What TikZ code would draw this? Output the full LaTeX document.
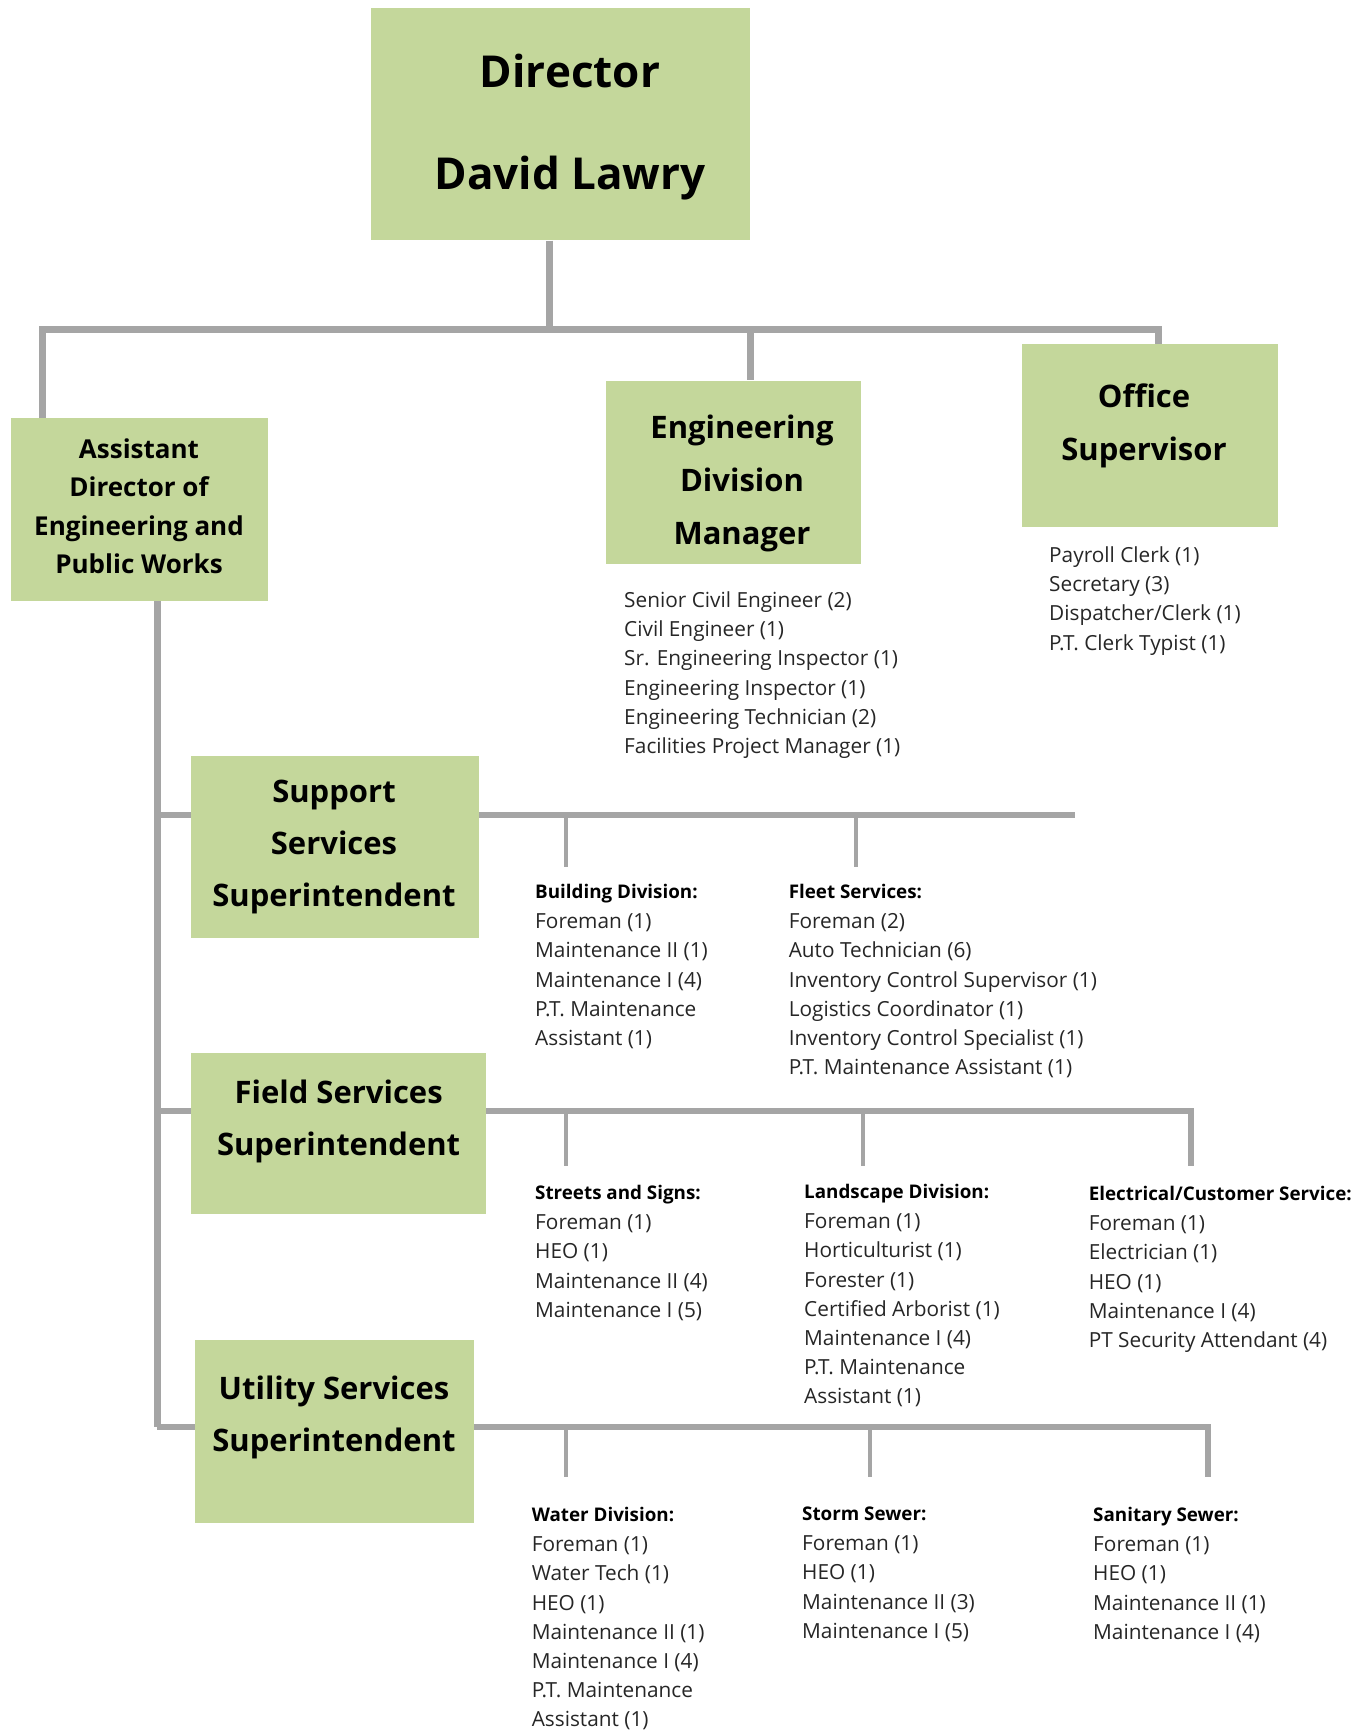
\documentclass[tikz,border=0pt]{standalone}
\usepackage{fontspec}
\setmainfont{Open Sans}
\usetikzlibrary{backgrounds}
\definecolor{boxgreen}{HTML}{C4D79B}
\definecolor{linegray}{HTML}{A5A5A5}
\tikzset{
  orgbox/.style={fill=boxgreen, draw=none, inner sep=0pt},
  ttl/.style={font=\bfseries\fontsize{31}{31}\selectfont, anchor=center, inner sep=0pt, text height=22pt, text depth=0pt},
  ttlsmall/.style={ttl, font=\bfseries\fontsize{26}{26}\selectfont, text height=18.6pt},
  ttlbig/.style={ttl, font=\bfseries\fontsize{44}{44}\selectfont, text height=31.4pt},
  item/.style={font=\fontsize{20.8}{20.8}\selectfont, text=black!85, anchor=west, inner sep=0pt, text height=14.8pt, text depth=0pt},
  hdr/.style={item, font=\bfseries\fontsize{18.8}{18.8}\selectfont, text=black, text height=13.4pt},
  mainline/.style={draw=linegray, line width=7pt},
  subline/.style={draw=linegray, line width=6pt},
  dropline/.style={draw=linegray, line width=4pt},
}
\newcommand\orglist[4]{\foreach \t [count=\i from 0] in {#4} {\node[item] (#1-\i) at (#2, #3+\i*29.2) {\t};}}
\begin{document}
\begin{tikzpicture}[x=1pt,y=-1pt]
\useasboundingbox (0,0) rectangle (1372,1730);
% boxes
\node[orgbox, minimum width=379.4pt, minimum height=232.7pt] (dir) at (560.3,124.05) {};
\node[orgbox, minimum width=257pt, minimum height=183pt] (asst) at (139.5,509.5) {};
\node[orgbox, minimum width=255.5pt, minimum height=183.1pt] (eng) at (733.25,472.05) {};
\node[orgbox, minimum width=256pt, minimum height=183pt] (office) at (1150,435.5) {};
\node[orgbox, minimum width=288pt, minimum height=182pt] (support) at (335,846.5) {};
\node[orgbox, minimum width=295pt, minimum height=161pt] (field) at (338.5,1133.5) {};
\node[orgbox, minimum width=279pt, minimum height=183pt] (utility) at (334.5,1431.5) {};
% titles
\node[ttlbig] (dir-1) at (570,72) {Director};
\node[ttlbig] (dir-2) at (570,174) {David Lawry};
\node[ttlsmall] (asst-1) at (139,449) {Assistant};
\node[ttlsmall] (asst-2) at (139,487) {Director of};
\node[ttlsmall] (asst-3) at (139,526) {Engineering and};
\node[ttlsmall] (asst-4) at (139,564) {Public Works};
\node[ttl] (eng-1) at (742,427) {Engineering};
\node[ttl] (eng-2) at (742,480) {Division};
\node[ttl] (eng-3) at (742,533) {Manager};
\node[ttl] (office-1) at (1144,396) {Office};
\node[ttl] (office-2) at (1144,449) {Supervisor};
\node[ttl] (support-1) at (334,791) {Support};
\node[ttl] (support-2) at (334,843) {Services};
\node[ttl] (support-3) at (334,895) {Superintendent};
\node[ttl] (field-1) at (338.6,1092) {Field Services};
\node[ttl] (field-2) at (338.6,1144) {Superintendent};
\node[ttl] (utility-1) at (334,1388.6) {Utility Services};
\node[ttl] (utility-2) at (334,1440) {Superintendent};
% lists
\orglist{englist}{624}{600}{Senior Civil Engineer (2),Civil Engineer (1),Sr. Engineering Inspector (1),Engineering Inspector (1),Engineering Technician (2),Facilities Project Manager (1)}
\orglist{offlist}{1049}{555}{Payroll Clerk (1),Secretary (3),Dispatcher/Clerk (1),P.T. Clerk Typist (1)}
\node[hdr] (bld-h) at (535,892) {Building Division:};
\orglist{bld}{535}{921.2}{Foreman (1),Maintenance II (1),Maintenance I (4),P.T. Maintenance,Assistant (1)}
\node[hdr] (flt-h) at (788.6,892) {Fleet Services:};
\orglist{flt}{788.6}{921.2}{Foreman (2),Auto Technician (6),Inventory Control Supervisor (1),Logistics Coordinator (1),Inventory Control Specialist (1),P.T. Maintenance Assistant (1)}
\node[hdr] (str-h) at (535,1193) {Streets and Signs:};
\orglist{str}{535}{1222.2}{Foreman (1),HEO (1),Maintenance II (4),Maintenance I (5)}
\node[hdr] (lnd-h) at (804,1192) {Landscape Division:};
\orglist{lnd}{804}{1221.2}{Foreman (1),Horticulturist (1),Forester (1),Certified Arborist (1),Maintenance I (4),P.T. Maintenance,Assistant (1)}
\node[hdr] (ele-h) at (1088.6,1194) {Electrical/Customer Service:};
\orglist{ele}{1088.6}{1223.2}{Foreman (1),Electrician (1),HEO (1),Maintenance I (4),PT Security Attendant (4)}
\node[hdr] (wat-h) at (531.6,1515) {Water Division:};
\orglist{wat}{531.6}{1544.2}{Foreman (1),Water Tech (1),HEO (1),Maintenance II (1),Maintenance I (4),P.T. Maintenance,Assistant (1)}
\node[hdr] (stm-h) at (802,1514) {Storm Sewer:};
\orglist{stm}{802}{1543.2}{Foreman (1),HEO (1),Maintenance II (3),Maintenance I (5)}
\node[hdr] (san-h) at (1093,1515) {Sanitary Sewer:};
\orglist{san}{1093}{1544.2}{Foreman (1),HEO (1),Maintenance II (1),Maintenance I (4)}
% junction coordinates
\coordinate (dirJ) at (549,329);
\coordinate (barL) at (42,329);
\coordinate (barR) at (1158,329);
\coordinate (engJ) at (750,329);
\coordinate (supJ) at (157,815);
\coordinate (supE) at (1075,815);
\coordinate (fldJ) at (157,1111);
\coordinate (fldE) at (1191,1111);
\coordinate (utlJ) at (157,1427);
\coordinate (utlE) at (1208,1427);
\coordinate (bldT) at (566,867);
\coordinate (fltT) at (856,867);
\coordinate (strT) at (566,1166);
\coordinate (lndT) at (862.5,1166);
\coordinate (eleT) at (1191,1166);
\coordinate (watT) at (566,1477);
\coordinate (stmT) at (870,1477);
\coordinate (sanT) at (1208,1477);
\begin{scope}[on background layer]
\draw[mainline] (dir.south -| dirJ) -- (dirJ);
\draw[mainline] (asst.north -| barL) -- (barL) -- (barR) -- (office.north -| barR);
\draw[mainline] (engJ) -- (eng.north -| engJ);
\draw[mainline] (asst.south -| utlJ) -- (utlJ);
\draw[subline] (supJ) -- (supE);
\draw[dropline] (bldT |- supJ) -- (bldT);
\draw[dropline] (fltT |- supJ) -- (fltT);
\draw[subline] (fldJ) -- (fldE) -- (eleT);
\draw[dropline] (strT |- fldJ) -- (strT);
\draw[dropline] (lndT |- fldJ) -- (lndT);
\draw[subline] (utlJ) -- (utlE) -- (sanT);
\draw[dropline] (watT |- utlJ) -- (watT);
\draw[dropline] (stmT |- utlJ) -- (stmT);
\end{scope}
\end{tikzpicture}
\end{document}
